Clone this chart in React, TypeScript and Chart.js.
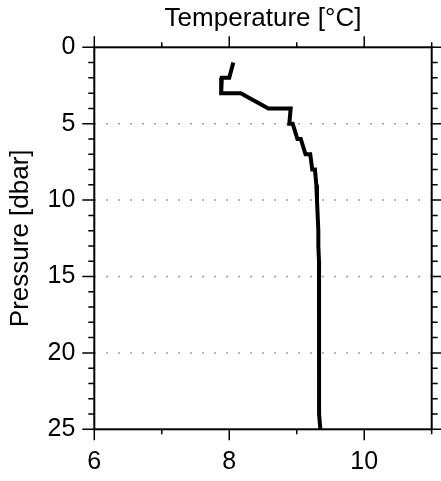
import React, { useEffect, useRef } from "react";
import { Chart, registerables } from "chart.js";

Chart.register(...registerables);

// Profile data
const pressure = [1, 2, 2, 3, 3, 4, 4, 5, 5, 6, 6, 7, 7, 8, 8, 9, 10, 11, 12, 13, 14, 15, 16, 17, 18, 19, 20, 21, 22, 23, 24, 25];
const temperature = [8.06, 8.0, 7.89, 7.88, 8.17, 8.58, 8.91, 8.89, 8.94, 9.01, 9.06, 9.13, 9.2, 9.23, 9.27, 9.29, 9.3, 9.31, 9.32, 9.32, 9.33, 9.33, 9.33, 9.33, 9.33, 9.33, 9.33, 9.33, 9.33, 9.33, 9.34, 9.35];

const xMin = 6;
const xMax = 11;
const yMin = 0;
const yMax = 25;
const xTickLabels = [6, 8, 10];
const yTickLabels = [0, 5, 10, 15, 20, 25];
const yGridValues = [5, 10, 15, 20];

const FONT = "'Liberation Sans', Arial, Helvetica, sans-serif";

const framePlugin = {
  id: "framePlugin",
  beforeDatasetsDraw(chart: any) {
    const { ctx, chartArea } = chart;
    const ys = chart.scales.y;
    ctx.save();
    ctx.strokeStyle = "#808080";
    ctx.lineWidth = 1.5;
    ctx.setLineDash([1.5, 10.5]);
    for (const v of yGridValues) {
      const py = ys.getPixelForValue(v);
      ctx.beginPath();
      ctx.moveTo(chartArea.left, py);
      ctx.lineTo(chartArea.right, py);
      ctx.stroke();
    }
    ctx.restore();
  },
  afterDatasetsDraw(chart: any) {
    const { ctx, chartArea } = chart;
    const xs = chart.scales.x;
    const ys = chart.scales.y;
    const { left, right, top, bottom } = chartArea;
    ctx.save();
    ctx.strokeStyle = "#000";
    ctx.lineWidth = 1.5;
    ctx.setLineDash([]);
    for (let v = xMin; v <= xMax; v++) {
      const px = xs.getPixelForValue(v);
      const len = xTickLabels.includes(v) ? 11 : 5;
      ctx.beginPath();
      ctx.moveTo(px, top);
      ctx.lineTo(px, top - len);
      ctx.moveTo(px, bottom);
      ctx.lineTo(px, bottom + len);
      ctx.stroke();
    }
    for (let v = yMin; v <= yMax; v++) {
      const py = ys.getPixelForValue(v);
      const len = yTickLabels.includes(v) ? 12 : 6;
      ctx.beginPath();
      ctx.moveTo(left, py);
      ctx.lineTo(left - len, py);
      ctx.moveTo(right, py);
      ctx.lineTo(right + len, py);
      ctx.stroke();
    }
    ctx.lineWidth = 2;
    ctx.strokeRect(left, top, right - left, bottom - top);
    ctx.restore();
  },
};

const noPad = (s: any) => {
  s.paddingLeft = 0;
  s.paddingRight = 0;
  s.paddingTop = 0;
  s.paddingBottom = 0;
};

export default function App() {
  const canvasRef = useRef<HTMLCanvasElement | null>(null);

  useEffect(() => {
    document.body.style.margin = "0";
    const canvas = canvasRef.current;
    if (!canvas) return;
    Chart.defaults.font.family = FONT;
    const chart = new Chart(canvas, {
      type: "line",
      data: {
        datasets: [
          {
            data: pressure.map((p, i) => ({ x: temperature[i], y: p })),
            borderColor: "#000",
            borderWidth: 4,
            pointRadius: 0,
            tension: 0,
            fill: false,
            borderJoinStyle: "miter",
          },
        ],
      },
      options: {
        responsive: false,
        animation: false,
        devicePixelRatio: 1,
        layout: { padding: { left: 0, right: 9.3, top: 0, bottom: 0 } },
        plugins: { legend: { display: false }, tooltip: { enabled: false }, title: { display: false } },
        scales: {
          x: {
            type: "linear",
            position: "bottom",
            min: xMin,
            max: xMax,
            grid: { display: false, drawTicks: false },
            border: { display: false },
            ticks: {
              stepSize: 1,
              autoSkip: false,
              maxRotation: 0,
              padding: 17.7,
              color: "#000",
              font: { size: 25, family: FONT },
              callback: (v: any) => (xTickLabels.includes(Number(v)) ? String(v) : ""),
            },
            afterFit: (s: any) => {
              s.height = 51.7;
              noPad(s);
            },
          },
          x2: {
            type: "linear",
            position: "top",
            min: xMin,
            max: xMax,
            grid: { display: false, drawTicks: false },
            border: { display: false },
            ticks: { display: false },
            title: {
              display: true,
              text: "Temperature [°C]",
              color: "#000",
              font: { size: 26, family: FONT },
              padding: { top: 3.4, bottom: 0 },
            },
            afterFit: (s: any) => {
              s.height = 47.3;
              noPad(s);
            },
          },
          y: {
            type: "linear",
            position: "left",
            reverse: true,
            min: yMin,
            max: yMax,
            grid: { display: false, drawTicks: false },
            border: { display: false },
            ticks: {
              stepSize: 1,
              autoSkip: false,
              padding: 19,
              color: "#000",
              font: { size: 25, family: FONT },
              callback: (v: any) => (yTickLabels.includes(Number(v)) ? String(v) : ""),
            },
            title: {
              display: true,
              text: "Pressure [dbar]",
              color: "#000",
              font: { size: 26, family: FONT },
              padding: { top: 5.7, bottom: 0 },
            },
            afterFit: (s: any) => {
              s.width = 94.3;
              noPad(s);
            },
          },
        },
      } as any,
      plugins: [framePlugin],
    });
    return () => chart.destroy();
  }, []);

  return (
    <div style={{ position: "absolute", left: 0, top: 0, width: 441, height: 481 }}>
      <canvas ref={canvasRef} width={441} height={481} style={{ width: 441, height: 481 }} />
    </div>
  );
}
